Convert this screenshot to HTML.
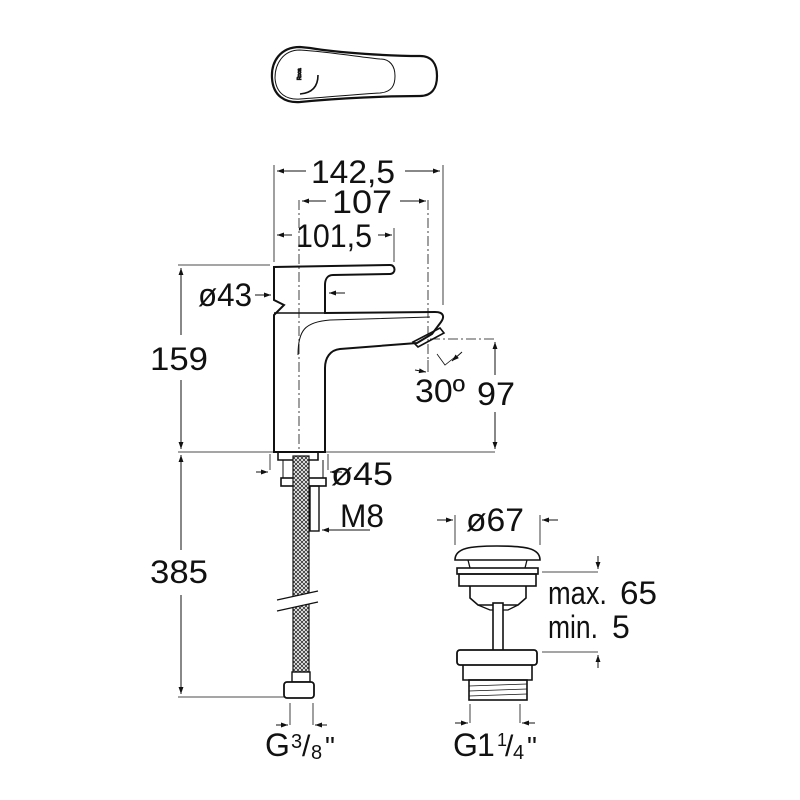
<!DOCTYPE html>
<html><head><meta charset="utf-8"><style>
html,body{margin:0;padding:0;background:#fff;}
svg{display:block;}
text{font-family:"Liberation Sans",sans-serif;fill:#111;}
</style></head><body>
<svg width="800" height="800" viewBox="0 0 800 800" xmlns="http://www.w3.org/2000/svg">
<defs>
<marker id="a" viewBox="0 0 10 10" refX="10" refY="5" markerWidth="10" markerHeight="7" orient="auto-start-reverse"><path d="M0,1.5 L10,5 L0,8.5 z" fill="#111"/></marker>
<pattern id="mesh" width="4" height="4" patternUnits="userSpaceOnUse"><rect width="4" height="4" fill="#fff"/><path d="M0,0 L4,4 M4,0 L0,4" stroke="#333" stroke-width="0.9"/></pattern>
</defs>
<g fill="none" stroke="#111" stroke-width="1">
<path d="M300,47 C280,47 271,62 272,78 C273,96 285,103 300,102 C340,98 390,96 420,96 C432,96 437,88 437,76 C437,64 432,56 420,56 C390,56 340,53 310,48 Z" stroke-width="2.2"/>
<path d="M300,50 C283,50 275,64 275,78 C276,94 287,100 300,99 C330,97 360,94 380,93 C392,92 395,85 395,76 C395,66 390,59 380,59 C360,57 330,52 300,50" stroke-width="1"/>
<path d="M318,75 C318,87 312,93 300,94" stroke-width="1.6"/>
<text x="293" y="78" font-size="5" transform="rotate(-90 298 75)">Roca</text>

<path d="M274,452 L274,315 L284,305 L274,300 L274,267 L390,265 C396,265 396,274 390,274 L333,275 C327,275 325,280 325,285 L325,313 L435,312 C445,312 444,318 441,322 L432,334 L417,343 L340,349 C330,350 325,358 325,368 L325,452 Z" stroke-width="2"/>
<path d="M274,313 L325,313" stroke-width="1.6"/>
<path d="M298,355 C298,330 305,322 330,320 L430,317" stroke-width="1"/>
<path d="M413,342 L440,328 L444,333 L418,347 Z" stroke-width="1.6"/>
<path d="M299,200 L299,452" stroke-dasharray="10,3,2,3" stroke-width="0.8"/>
<path d="M428,200 L428,360" stroke-dasharray="10,3,2,3" stroke-width="0.8"/>
<path d="M430,339 L495,339" stroke-dasharray="10,3,2,3" stroke-width="0.8"/>
<path d="M274,165 L274,262 M443,165 L443,305 M394,228 L394,262" stroke-width="0.8"/>
<path d="M306,171 L277,171" marker-end="url(#a)"/><path d="M405,171 L440,171" marker-end="url(#a)"/>
<path d="M326,201 L302,201" marker-end="url(#a)"/><path d="M400,201 L426,201" marker-end="url(#a)"/>
<path d="M292,235 L277,235" marker-end="url(#a)"/><path d="M378,235 L392,235" marker-end="url(#a)"/>
<path d="M255,295 L271,295" marker-end="url(#a)"/><path d="M345,293 L329,293" marker-end="url(#a)"/>
<path d="M178,265 L270,265 M178,452 L495,452 M178,697 L285,697" stroke-width="0.8"/>
<path d="M181,335 L181,268" marker-end="url(#a)"/><path d="M181,380 L181,449" marker-end="url(#a)"/>
<path d="M181,550 L181,455" marker-end="url(#a)"/><path d="M181,595 L181,694" marker-end="url(#a)"/>
<path d="M495,375 L495,342" marker-end="url(#a)"/><path d="M495,412 L495,449" marker-end="url(#a)"/>
<path d="M428,360 L428,372" stroke-width="0.8"/>
<path d="M415,370 L426,372" marker-end="url(#a)"/>
<path d="M437,354 L445,365 L455,357" stroke-width="0.8"/><path d="M462,352 L452,361" marker-end="url(#a)"/>

<path d="M278,452 L278,460 L318,460 L318,452" stroke-width="1.6"/>
<path d="M283,460 L283,478 M323,460 L323,478" stroke-width="1"/>
<rect x="281" y="478" width="45" height="8" stroke-width="1.6"/>
<rect x="310" y="486" width="9" height="45" stroke-width="1.4"/>
<rect x="293" y="456" width="16" height="222" fill="url(#mesh)" stroke-width="1.2"/>
<rect x="292" y="672" width="18" height="10" fill="#fff" stroke-width="1.4"/>
<rect x="284" y="682" width="30" height="16" rx="3" fill="#fff" stroke-width="1.8"/>
<path d="M277,600 L318,591 L318,602 L277,611 Z" fill="#fff" stroke="none"/>
<path d="M277,600 L318,591 M277,611 L318,602" stroke-width="1.2"/>
<path d="M270,454 L270,470 M328,454 L328,470" stroke-width="0.8"/>
<path d="M256,472 L268,472" marker-end="url(#a)"/><path d="M342,472 L330,472" marker-end="url(#a)"/>
<path d="M370,530 L322,530" marker-end="url(#a)"/>
<path d="M290,703 L290,725 M313,703 L313,725" stroke-width="0.8"/>
<path d="M276,725 L288,725" marker-end="url(#a)"/><path d="M327,725 L315,725" marker-end="url(#a)"/>

<path d="M455,560 C455,548 470,546 497,546 C525,546 540,548 540,560 Z" stroke-width="1.6"/>
<path d="M468,560 L470,568 M527,560 L525,568" stroke-width="1.3"/>
<rect x="457" y="568" width="81" height="6" stroke-width="1.6"/>
<rect x="459" y="574" width="77" height="12" stroke-width="1.6"/>
<path d="M470,586 L470,598 L478,605 L518,605 L526,598 L526,586" stroke-width="1.6"/>
<path d="M478,605 L490,610 L508,610 L518,605" stroke-width="1.3"/>
<rect x="493" y="603" width="10" height="48" fill="#fff" stroke-width="1.6"/>
<rect x="457" y="650" width="80" height="15" rx="3" fill="#fff" stroke-width="1.8"/>
<path d="M463,665 L463,680 L532,680 L532,665" stroke-width="1.6"/>
<rect x="469" y="680" width="58" height="20" stroke-width="1.6"/>
<path d="M469,686 L527,684 M469,691 L527,689 M469,696 L527,694" stroke-width="0.7"/>
<path d="M455,515 L455,545 M540,515 L540,545" stroke-width="0.8"/>
<path d="M437,520 L453,520" marker-end="url(#a)"/><path d="M558,520 L542,520" marker-end="url(#a)"/>
<path d="M542,572 L598,572 M542,652 L598,652" stroke-width="0.8"/>
<path d="M598,556 L598,569" marker-end="url(#a)"/><path d="M598,668 L598,655" marker-end="url(#a)"/>
<path d="M470,704 L470,723 M520,704 L520,723" stroke-width="0.8"/>
<path d="M455,723 L468,723" marker-end="url(#a)"/><path d="M535,723 L522,723" marker-end="url(#a)"/>
</g>

<g font-size="32">
<text x="311" y="183" textLength="84" lengthAdjust="spacingAndGlyphs">142,5</text>
<text x="332" y="213" textLength="60" lengthAdjust="spacingAndGlyphs">107</text>
<text x="296" y="247" textLength="76" lengthAdjust="spacingAndGlyphs">101,5</text>
<text x="198" y="306" textLength="54" lengthAdjust="spacingAndGlyphs">ø43</text>
<text x="150" y="370" textLength="58" lengthAdjust="spacingAndGlyphs">159</text>
<text x="150" y="583" textLength="58" lengthAdjust="spacingAndGlyphs">385</text>
<text x="415" y="402" textLength="50" lengthAdjust="spacingAndGlyphs">30º</text>
<text x="477" y="405" textLength="38" lengthAdjust="spacingAndGlyphs">97</text>
<text x="331" y="485" textLength="62" lengthAdjust="spacingAndGlyphs">ø45</text>
<text x="340" y="527" textLength="44" lengthAdjust="spacingAndGlyphs">M8</text>
<text x="466" y="531" textLength="58" lengthAdjust="spacingAndGlyphs">ø67</text>
<text x="548" y="604" textLength="59" lengthAdjust="spacingAndGlyphs">max.</text><text x="620" y="604" textLength="37" lengthAdjust="spacingAndGlyphs">65</text>
<text x="548" y="638" textLength="50" lengthAdjust="spacingAndGlyphs">min.</text><text x="612" y="638">5</text>
<text x="265" y="756">G</text><text x="291" y="748" font-size="20">3</text><text x="302" y="756" font-size="30">/</text><text x="311" y="759" font-size="20">8</text><text x="325" y="756" font-size="28">"</text>
<text x="453" y="756">G</text><text x="477" y="756">1</text><text x="497" y="746" font-size="18">1</text><text x="505" y="756" font-size="30">/</text><text x="513" y="759" font-size="20">4</text><text x="527" y="756" font-size="28">"</text>
</g>
</svg>
</body></html>
